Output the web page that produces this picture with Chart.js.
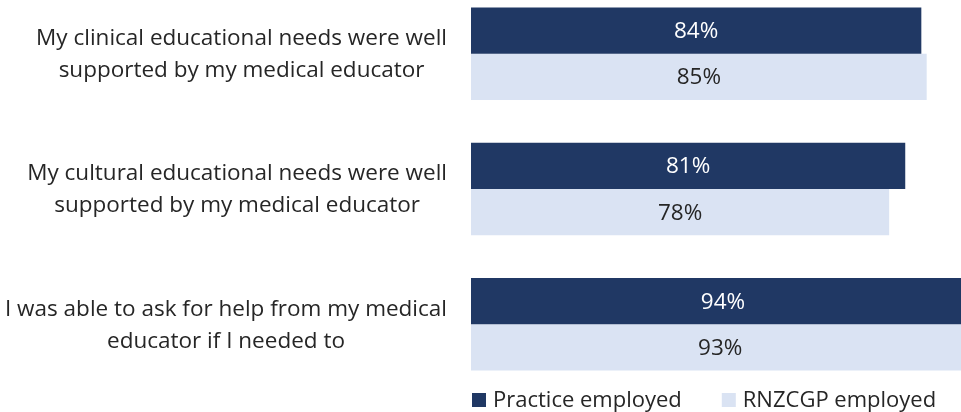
<!DOCTYPE html>
<html><head><meta charset="utf-8">
<script src="https://cdn.jsdelivr.net/npm/chart.js@4"></script>
<style>
html,body{margin:0;padding:0;overflow:hidden;background:#fff;width:961px;height:412px}
#wrap{position:absolute;left:0;top:-14px;width:961px;height:426px}
</style></head><body><div id="wrap"><canvas id="c"></canvas></div>
<script>
const categories = [
  ["My clinical educational needs were well", "supported by my medical educator"],
  ["My cultural educational needs were well", "supported by my medical educator"],
  ["I was able to ask for help from my medical", "educator if I needed to"]
];
const seriesNames = ["Practice employed", "RNZCGP employed"];
const practiceEmployed = [84, 81, 94];
const rnzcgpEmployed = [85, 78, 93];
const seriesColors = ["#203864", "#DAE3F3"];
const valueTextColors = ["#ffffff", "#262626"];

const FONT = '"Open Sans", "Noto Sans", sans-serif';
const CAT_SIZE = 22.5;
const VAL_SIZE = 22.5;
const LEG_SIZE = 22;

const labelPlugin = {
  id: 'customText',
  afterDatasetsDraw(chart) {
    const ctx = chart.ctx;
    ctx.save();
    ctx.font = VAL_SIZE + 'px ' + FONT;
    ctx.textAlign = 'center';
    ctx.textBaseline = 'middle';
    chart.data.datasets.forEach((ds, di) => {
      const meta = chart.getDatasetMeta(di);
      meta.data.forEach((el, i) => {
        ctx.fillStyle = valueTextColors[di];
        ctx.fillText(ds.data[i] + '%', (el.x + el.base) / 2, el.y + 1);
      });
    });
    ctx.restore();
  },
  afterDraw(chart) {
    const ctx = chart.ctx;
    const ys = chart.scales.y;
    const area = chart.chartArea;
    ctx.save();
    // category labels
    ctx.font = CAT_SIZE + 'px ' + FONT;
    ctx.fillStyle = '#262626';
    ctx.textAlign = 'center';
    ctx.textBaseline = 'middle';
    const right = area.left - 24;
    const lh = 32;
    chart.data.labels.forEach((lines, i) => {
      const y = ys.getPixelForValue(i) + 1;
      const w = Math.max(...lines.map(l => ctx.measureText(l).width));
      const cx = right - w / 2;
      lines.forEach((l, k) => {
        ctx.fillText(l, cx, y + (k - (lines.length - 1) / 2) * lh);
      });
    });
    // legend
    ctx.font = LEG_SIZE + 'px ' + FONT;
    ctx.textAlign = 'left';
    const ly = chart.height - 12;
    let x = area.left + 1;
    chart.data.datasets.forEach((ds, di) => {
      ctx.fillStyle = ds.backgroundColor;
      ctx.fillRect(x, ly - 7, 14, 14);
      ctx.fillStyle = '#262626';
      ctx.fillText(ds.label, x + 21, ly + 1);
      x += 21 + ctx.measureText(ds.label).width + 40;
    });
    ctx.restore();
  }
};

new Chart(document.getElementById('c'), {
  type: 'bar',
  data: {
    labels: categories,
    datasets: [
      { label: seriesNames[0], data: practiceEmployed, backgroundColor: seriesColors[0], borderWidth: 0 },
      { label: seriesNames[1], data: rnzcgpEmployed, backgroundColor: seriesColors[1], borderWidth: 0 }
    ]
  },
  options: {
    indexAxis: 'y',
    responsive: true,
    maintainAspectRatio: false,
    animation: false,
    layout: { padding: { top: 0, bottom: 20, left: 0, right: 0 } },
    datasets: { bar: { barPercentage: 1, categoryPercentage: 0.683 } },
    scales: {
      x: { min: 0, max: 91.4, display: false },
      y: {
        grid: { display: false },
        border: { display: false },
        ticks: { display: false },
        afterFit(scale) { scale.width = 471; }
      }
    },
    plugins: { legend: { display: false }, tooltip: { enabled: false } }
  },
  plugins: [labelPlugin]
});
</script></body></html>
